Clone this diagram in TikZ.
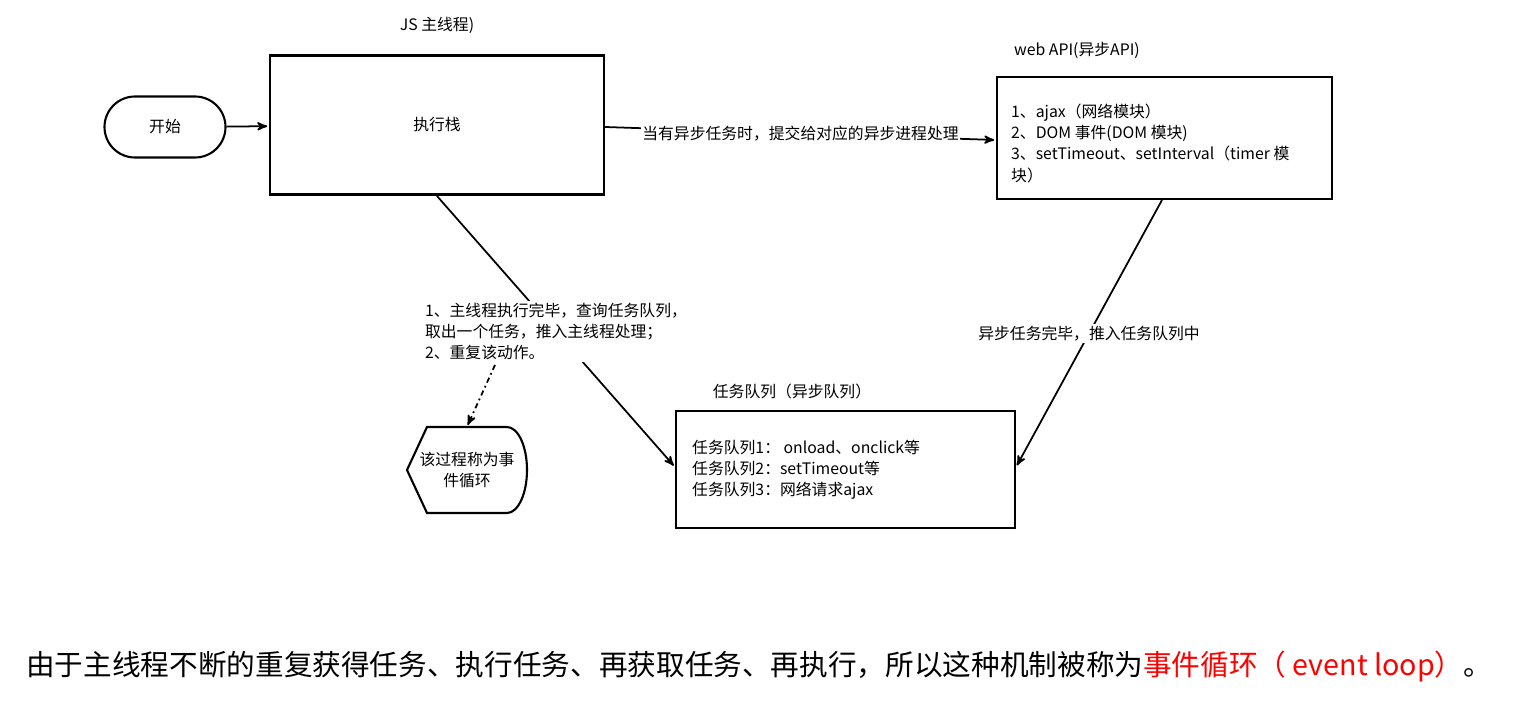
\documentclass[tikz,border=0pt]{standalone}
\usepackage{fontspec}
\setmainfont{Noto Sans CJK SC}
\usetikzlibrary{arrows,positioning,shapes.misc}

\tikzset{
  box/.style={draw,line width=1.2pt,inner sep=0pt},
  txt/.style={font=\fontsize{9}{12}\selectfont,align=left},
  lbl/.style={font=\fontsize{9}{12}\selectfont,fill=white,inner sep=1pt},
  link/.style={->,>=stealth',line width=1pt,shorten >=1pt},
}

\begin{document}
\begin{tikzpicture}[x=0.2mm,y=-0.2mm]
  \useasboundingbox (0,0) rectangle (1517,720);

  % nodes
  \node[box,rounded rectangle,minimum width=24.2mm,minimum height=12.2mm,txt]
       (start) at (165,127) {开始};
  \node[box,minimum width=66.8mm,minimum height=27.8mm,txt] (stack) at (437,125) {执行栈};
  \node[txt,above=3mm of stack] (stacktitle) {JS 主线程)};
  \node[box,minimum width=67mm,minimum height=24.4mm] (webapi) at (1164.5,138) {};
  \node[txt,anchor=north west] (apitext) at (1005,98)
       {1、ajax（网络模块）\\2、DOM 事件(DOM 模块)\\3、setTimeout、setInterval（timer 模\\块）};
  \node[txt] (apititle) at (1077,50) {web API(异步API)};
  \node[box,minimum width=67.8mm,minimum height=23.4mm] (queue) at (845.5,469.5) {};
  \node[txt,anchor=west] (queuetext) at (686,470)
       {任务队列1： onload、onclick等\\任务队列2：setTimeout等\\任务队列3：网络请求ajax};
  \node[txt] (queuetitle) at (792,391) {任务队列（异步队列）};
  \node[minimum width=24mm,minimum height=17.2mm,txt,align=center] (loop) at (467,470)
       {该过程称为事\\件循环};
  \draw[line width=1.2pt] (407,470) -- (427,427) -- (507,427)
       arc[start angle=-90,end angle=90,x radius=20,y radius=43] -- (427,513) -- cycle;

  % connectors
  \draw[link] (start) -- (stack);
  \draw[link] (stack.east |- 0,127) -- node[lbl] {当有异步任务时，提交给对应的异步进程处理} (webapi.west |- 0,140);
  \draw[link] (1162,200) -- node[lbl] {异步任务完毕，推入任务队列中} (queue.east |- 0,467);
  \draw[link] (437,196) -- node[lbl,txt,pos=0.5,align=left]
       {1、主线程执行完毕，查询任务队列，\\取出一个任务，推入主线程处理；\\2、重复该动作。} (queue.west |- 0,467);
  \draw[link,dash dot] (495,365) -- (loop.north);

  % bottom text
  \node[anchor=west,font=\fontsize{16.3}{20}\selectfont] (caption) at (20,667)
       {由于主线程不断的重复获得任务、执行任务、再获取任务、再执行，所以这种机制被称为\textcolor{red}{事件循环（ event loop）}。};
\end{tikzpicture}
\end{document}
